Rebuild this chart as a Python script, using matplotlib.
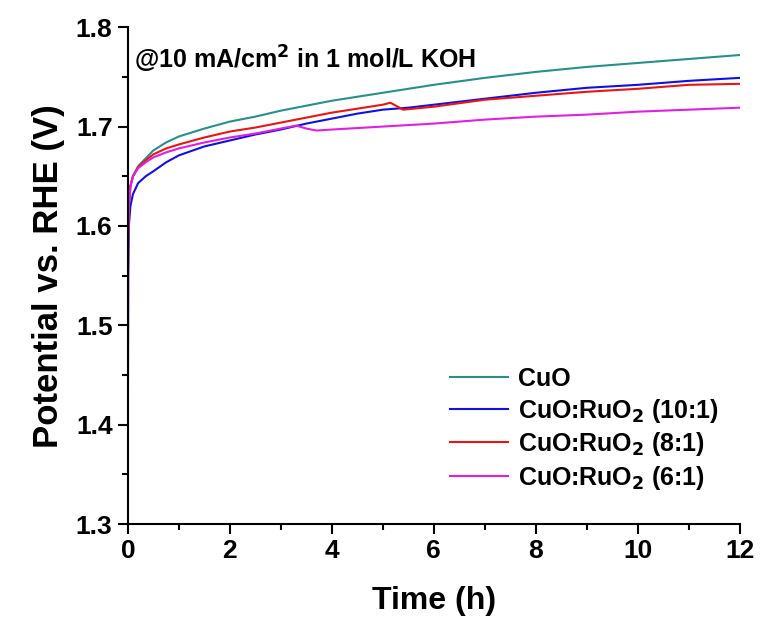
import matplotlib.pyplot as plt

plt.rcParams['font.family'] = ['Liberation Sans', 'DejaVu Sans']
plt.rcParams['font.weight'] = 'bold'
plt.rcParams['mathtext.default'] = 'bf'

# time (h) and potential (V)
t_cuo = [0, 0.005, 0.02, 0.05, 0.1, 0.2, 0.35, 0.5, 0.75, 1, 1.5, 2, 2.5, 3, 3.5,
         4, 4.5, 5, 5.5, 6, 7, 8, 9, 10, 11, 12]
v_cuo = [1.33, 1.58, 1.62, 1.64, 1.65, 1.66, 1.668, 1.676, 1.684, 1.69, 1.698, 1.705,
         1.710, 1.716, 1.721, 1.726, 1.730, 1.734, 1.738, 1.742, 1.749, 1.755, 1.760,
         1.764, 1.768, 1.772]

t_10 = [0, 0.005, 0.02, 0.05, 0.1, 0.2, 0.35, 0.5, 0.75, 1, 1.5, 2, 2.5, 3, 3.5,
        4, 4.5, 5, 5.5, 6, 7, 8, 9, 10, 11, 12]
v_10 = [1.34, 1.55, 1.60, 1.62, 1.632, 1.643, 1.650, 1.655, 1.664, 1.671, 1.680, 1.686,
        1.692, 1.697, 1.703, 1.708, 1.713, 1.717, 1.719, 1.722, 1.728, 1.734, 1.739,
        1.742, 1.746, 1.749]

t_8 = [0, 0.005, 0.02, 0.05, 0.1, 0.2, 0.35, 0.5, 0.75, 1, 1.5, 2, 2.5, 3, 3.5,
       4, 4.5, 5, 5.15, 5.4, 6, 7, 8, 9, 10, 11, 12]
v_8 = [1.33, 1.58, 1.62, 1.64, 1.65, 1.659, 1.666, 1.672, 1.678, 1.682, 1.689, 1.695,
       1.699, 1.704, 1.709, 1.714, 1.718, 1.722, 1.724, 1.717, 1.720, 1.727, 1.731,
       1.735, 1.738, 1.742, 1.743]

t_6 = [0, 0.005, 0.02, 0.05, 0.1, 0.2, 0.35, 0.5, 0.75, 1, 1.5, 2, 2.5, 3, 3.3,
       3.5, 3.7, 4, 5, 6, 7, 8, 9, 10, 11, 12]
v_6 = [1.33, 1.58, 1.62, 1.64, 1.65, 1.658, 1.664, 1.669, 1.674, 1.678, 1.684, 1.689,
       1.693, 1.698, 1.701, 1.698, 1.696, 1.697, 1.700, 1.703, 1.707, 1.710, 1.712,
       1.715, 1.717, 1.719]

labels = ['CuO', 'CuO:RuO$_2$ (10:1)', 'CuO:RuO$_2$ (8:1)', 'CuO:RuO$_2$ (6:1)']
colors = ['#2a8f8a', '#1010e0', '#e81515', '#e020e0']

fig = plt.figure(figsize=(7.61, 6.18), dpi=100)
ax = fig.add_axes([0.168, 0.152, 0.804, 0.804])

series = [(t_cuo, v_cuo), (t_10, v_10), (t_8, v_8), (t_6, v_6)]
for (t, v), lab, col in zip(series, labels, colors):
    ax.plot(t, v, color=col, lw=1.5, label=lab)

ax.set_xlim(0, 12)
ax.set_ylim(1.3, 1.8)
ax.set_xticks(range(0, 13, 2))
ax.set_xticks(range(1, 12, 2), minor=True)
ax.set_yticks([1.3, 1.4, 1.5, 1.6, 1.7, 1.8])
ax.set_yticks([1.35, 1.45, 1.55, 1.65, 1.75], minor=True)
ax.set_yticklabels(['1.3', '1.4', '1.5', '1.6', '1.7', '1.8'])

ax.spines['top'].set_visible(False)
ax.spines['right'].set_visible(False)
for s in ['left', 'bottom']:
    ax.spines[s].set_linewidth(1.5)
ax.tick_params(which='major', direction='out', length=7, width=1.5, labelsize=19, pad=4)
ax.tick_params(which='minor', direction='out', length=4, width=1.5)

ax.set_xlabel('Time (h)', fontsize=23, fontweight='bold', labelpad=16)
ax.set_ylabel('Potential vs. RHE (V)', fontsize=25, fontweight='bold', labelpad=8)

ax.text(0.01, 0.966, '@10 mA/cm$^2$ in 1 mol/L KOH', transform=ax.transAxes,
        fontsize=18, fontweight='bold', va='top', ha='left')

ax.legend(loc='lower left', bbox_to_anchor=(0.49, 0.02), frameon=False,
          handlelength=2.3, labelspacing=0.22, handletextpad=0.4,
          prop={'weight': 'bold', 'size': 18})

fig.savefig('out.png', dpi=100)
